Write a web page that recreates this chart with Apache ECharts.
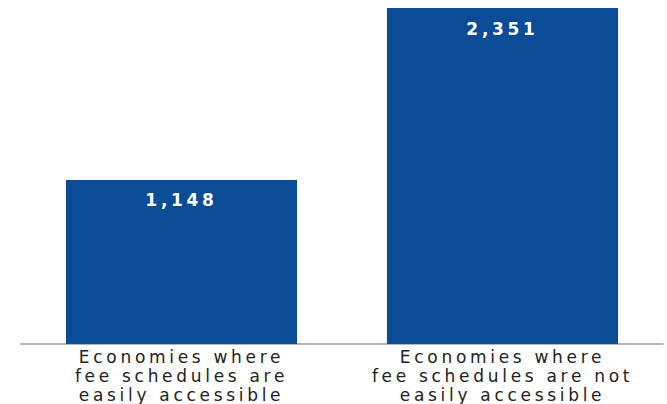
<!DOCTYPE html>
<html>
<head>
<meta charset="utf-8">
<script src="https://cdn.jsdelivr.net/npm/echarts@6/dist/echarts.min.js"></script>
<style>
  html, body { margin: 0; padding: 0; background: #ffffff; }
  #chart { width: 667px; height: 404px; }
  /* wide, airy lettering for category and value labels */
  #chart text { letter-spacing: 3.7px; }
</style>
</head>
<body>
<div id="chart"></div>
<script>
// Average cost by fee-schedule accessibility
const categories = [
  'Economies where\nfee schedules are\neasily accessible',
  'Economies where\nfee schedules are not\neasily accessible'
];
const values = [1148, 2351];

const chart = echarts.init(document.getElementById('chart'), null, { renderer: 'svg' });

chart.setOption({
  animation: false,
  grid: { left: 21, right: 4, top: 8, bottom: 58, containLabel: false },
  xAxis: {
    type: 'category',
    data: categories,
    axisTick: { show: false },
    axisLine: { show: true, lineStyle: { color: '#9a9a9a', width: 1.5 } },
    axisLabel: {
      color: '#222222',
      fontFamily: 'DejaVu Sans',
      fontSize: 17,
      lineHeight: 19,
      margin: 3,
      interval: 0
    }
  },
  yAxis: {
    type: 'value',
    min: 0,
    max: 2351,
    show: false,
    splitLine: { show: false }
  },
  series: [{
    type: 'bar',
    data: values,
    barWidth: '72%',
    itemStyle: { color: '#0a4c95' },
    label: {
      show: true,
      position: 'insideTop',
      distance: 12,
      color: '#ffffff',
      fontFamily: 'DejaVu Sans',
      fontWeight: 'bold',
      fontSize: 17,
      formatter: p => p.value.toLocaleString('en-US')
    }
  }]
});
</script>
</body>
</html>
